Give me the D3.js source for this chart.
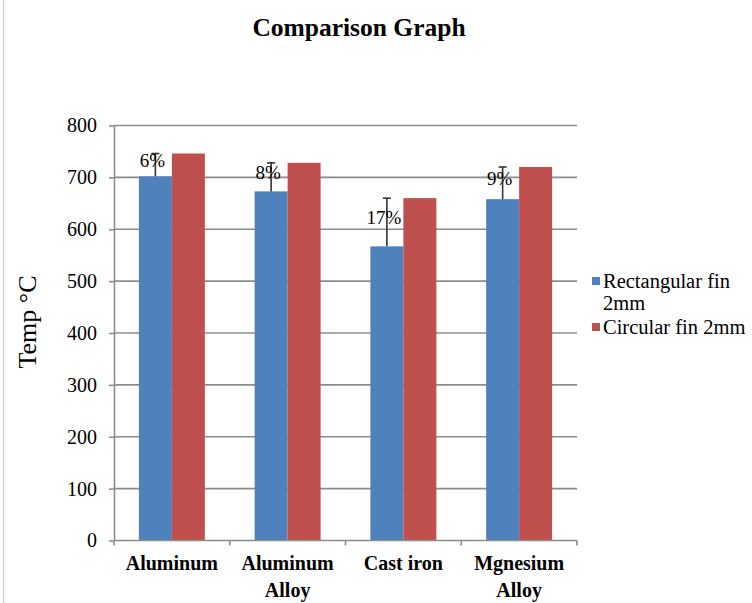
<!DOCTYPE html>
<html lang="en">
	<head>
		<meta charset="utf-8">
		<title>Comparison Graph</title>
		<script src="https://d3js.org/d3.v7.min.js"></script>
		<style type="text/css">
		body { margin: 0; background: #fff; }
		text { font-family: "Liberation Serif", "Times New Roman", serif; fill: #000; }
		.grid line { stroke: #8c8c8c; stroke-width: 1.6; }
		.axis path, .axis line { stroke: #8c8c8c; stroke-width: 1.6; }
		.axis text { font-size: 20px; }
		.cat { font-size: 20px; font-weight: bold; text-anchor: middle; }
		.pct { font-size: 19px; text-anchor: middle; }
		.legend text { font-size: 20.5px; }
		</style>
	</head>
	<body>
		<div id="chart"></div>
		<script type="text/javascript">

		// data
		var categories = [["Aluminum"], ["Aluminum", "Alloy"], ["Cast iron"], ["Mgnesium", "Alloy"]];
		var rectFin = [702, 673, 567, 658];
		var circFin = [746, 728, 660, 720];
		var diffLabels = ["6%", "8%", "17%", "9%"];
		var yTicks = [0, 100, 200, 300, 400, 500, 600, 700, 800];
		var seriesNames = [["Rectangular fin", "2mm"], ["Circular fin 2mm"]];
		var colors = ["#4f81bd", "#c0504d"];

		var w = 752;
		var h = 603;
		var plotLeft = 114, plotRight = 577, plotTop = 125.5, plotBottom = 540.5;

		var svg = d3.select("#chart")
			.append("svg")
			.attr("width", w)
			.attr("height", h);

		// thin border on the left of the image
		svg.append("line")
			.attr("x1", 3.5).attr("x2", 3.5)
			.attr("y1", 0).attr("y2", h)
			.style("stroke", "#d4d4d4")
			.style("stroke-width", 1.5);

		var xScale = d3.scaleBand()
			.domain(d3.range(categories.length))
			.range([plotLeft, plotRight]);

		var bw = xScale.bandwidth();
		var inner = d3.scaleBand()
			.domain([0, 1])
			.range([bw * 0.215, bw * 0.785]);

		var yScale = d3.scaleLinear()
			.domain([0, 800])
			.range([plotBottom, plotTop]);

		// gridlines
		svg.append("g")
			.attr("class", "grid")
			.selectAll("line")
			.data(yTicks.slice(1))
			.enter()
			.append("line")
			.attr("x1", plotLeft).attr("x2", plotRight)
			.attr("y1", function(d) { return yScale(d); })
			.attr("y2", function(d) { return yScale(d); });

		// bars
		var seriesData = [rectFin, circFin];
		seriesData.forEach(function(vals, s) {
			svg.append("g")
				.selectAll("rect")
				.data(vals)
				.enter()
				.append("rect")
				.attr("x", function(d, i) { return xScale(i) + inner(s); })
				.attr("y", function(d) { return yScale(d); })
				.attr("width", inner.bandwidth())
				.attr("height", function(d) { return plotBottom - yScale(d); })
				.style("fill", colors[s]);
		});

		// error bars on the rectangular fin bars, up to the circular value
		var whisk = svg.append("g")
			.selectAll("g")
			.data(rectFin)
			.enter()
			.append("g");

		var cx = function(i) { return xScale(i) + inner(0) + inner.bandwidth() / 2; };

		whisk.append("line")
			.attr("x1", function(d, i) { return cx(i); })
			.attr("x2", function(d, i) { return cx(i); })
			.attr("y1", function(d) { return yScale(d); })
			.attr("y2", function(d, i) { return yScale(circFin[i]); })
			.style("stroke", "#333")
			.style("stroke-width", 1.6);

		whisk.append("line")
			.attr("x1", function(d, i) { return cx(i) - 4; })
			.attr("x2", function(d, i) { return cx(i) + 4; })
			.attr("y1", function(d, i) { return yScale(circFin[i]); })
			.attr("y2", function(d, i) { return yScale(circFin[i]); })
			.style("stroke", "#333")
			.style("stroke-width", 1.6);

		// percentage labels
		svg.append("g")
			.selectAll("text")
			.data(diffLabels)
			.enter()
			.append("text")
			.attr("class", "pct")
			.attr("x", function(d, i) { return cx(i) - 3; })
			.attr("y", function(d, i) { return (yScale(rectFin[i]) + yScale(circFin[i])) / 2 - 5; })
			.attr("dy", "0.35em")
			.text(function(d) { return d; });

		// y axis
		var yAxis = d3.axisLeft(yScale)
			.tickValues(yTicks)
			.tickSize(5)
			.tickSizeOuter(0)
			.tickPadding(12);

		svg.append("g")
			.attr("class", "axis")
			.attr("transform", "translate(" + plotLeft + ",0)")
			.call(yAxis);

		// x axis line with ticks at category borders
		var xg = svg.append("g").attr("class", "axis");
		xg.append("line")
			.attr("x1", plotLeft).attr("x2", plotRight)
			.attr("y1", plotBottom).attr("y2", plotBottom);
		xg.selectAll(".xt")
			.data(d3.range(categories.length + 1))
			.enter()
			.append("line")
			.attr("class", "xt")
			.attr("x1", function(i) { return plotLeft + i * bw; })
			.attr("x2", function(i) { return plotLeft + i * bw; })
			.attr("y1", plotBottom)
			.attr("y2", plotBottom + 5);

		// category labels
		var cat = svg.append("g")
			.selectAll("text")
			.data(categories)
			.enter()
			.append("text")
			.attr("class", "cat")
			.attr("x", function(d, i) { return xScale(i) + bw / 2; })
			.attr("y", 570);
		cat.selectAll("tspan")
			.data(function(d) { return d; })
			.enter()
			.append("tspan")
			.attr("x", function() { return d3.select(this.parentNode).attr("x"); })
			.attr("dy", function(d, j) { return j === 0 ? 0 : 27; })
			.text(function(d) { return d; });

		// title
		svg.append("text")
			.attr("x", 359)
			.attr("y", 36)
			.attr("text-anchor", "middle")
			.style("font-size", "25.5px")
			.style("font-weight", "bold")
			.text("Comparison Graph");

		// y axis title
		svg.append("text")
			.attr("transform", "rotate(-90)")
			.attr("x", -322)
			.attr("y", 36)
			.attr("text-anchor", "middle")
			.style("font-size", "26px")
			.text("Temp \u00B0C");

		// legend
		var legend = svg.append("g").attr("class", "legend");
		var legY = [288, 334];
		seriesNames.forEach(function(lines, s) {
			legend.append("rect")
				.attr("x", 592)
				.attr("y", legY[s] - 11)
				.attr("width", 8)
				.attr("height", 8)
				.style("fill", colors[s]);
			var t = legend.append("text")
				.attr("x", 603)
				.attr("y", legY[s]);
			t.selectAll("tspan")
				.data(lines)
				.enter()
				.append("tspan")
				.attr("x", 603)
				.attr("dy", function(d, j) { return j === 0 ? 0 : 21.5; })
				.text(function(d) { return d; });
		});

		</script>
	</body>
</html>
